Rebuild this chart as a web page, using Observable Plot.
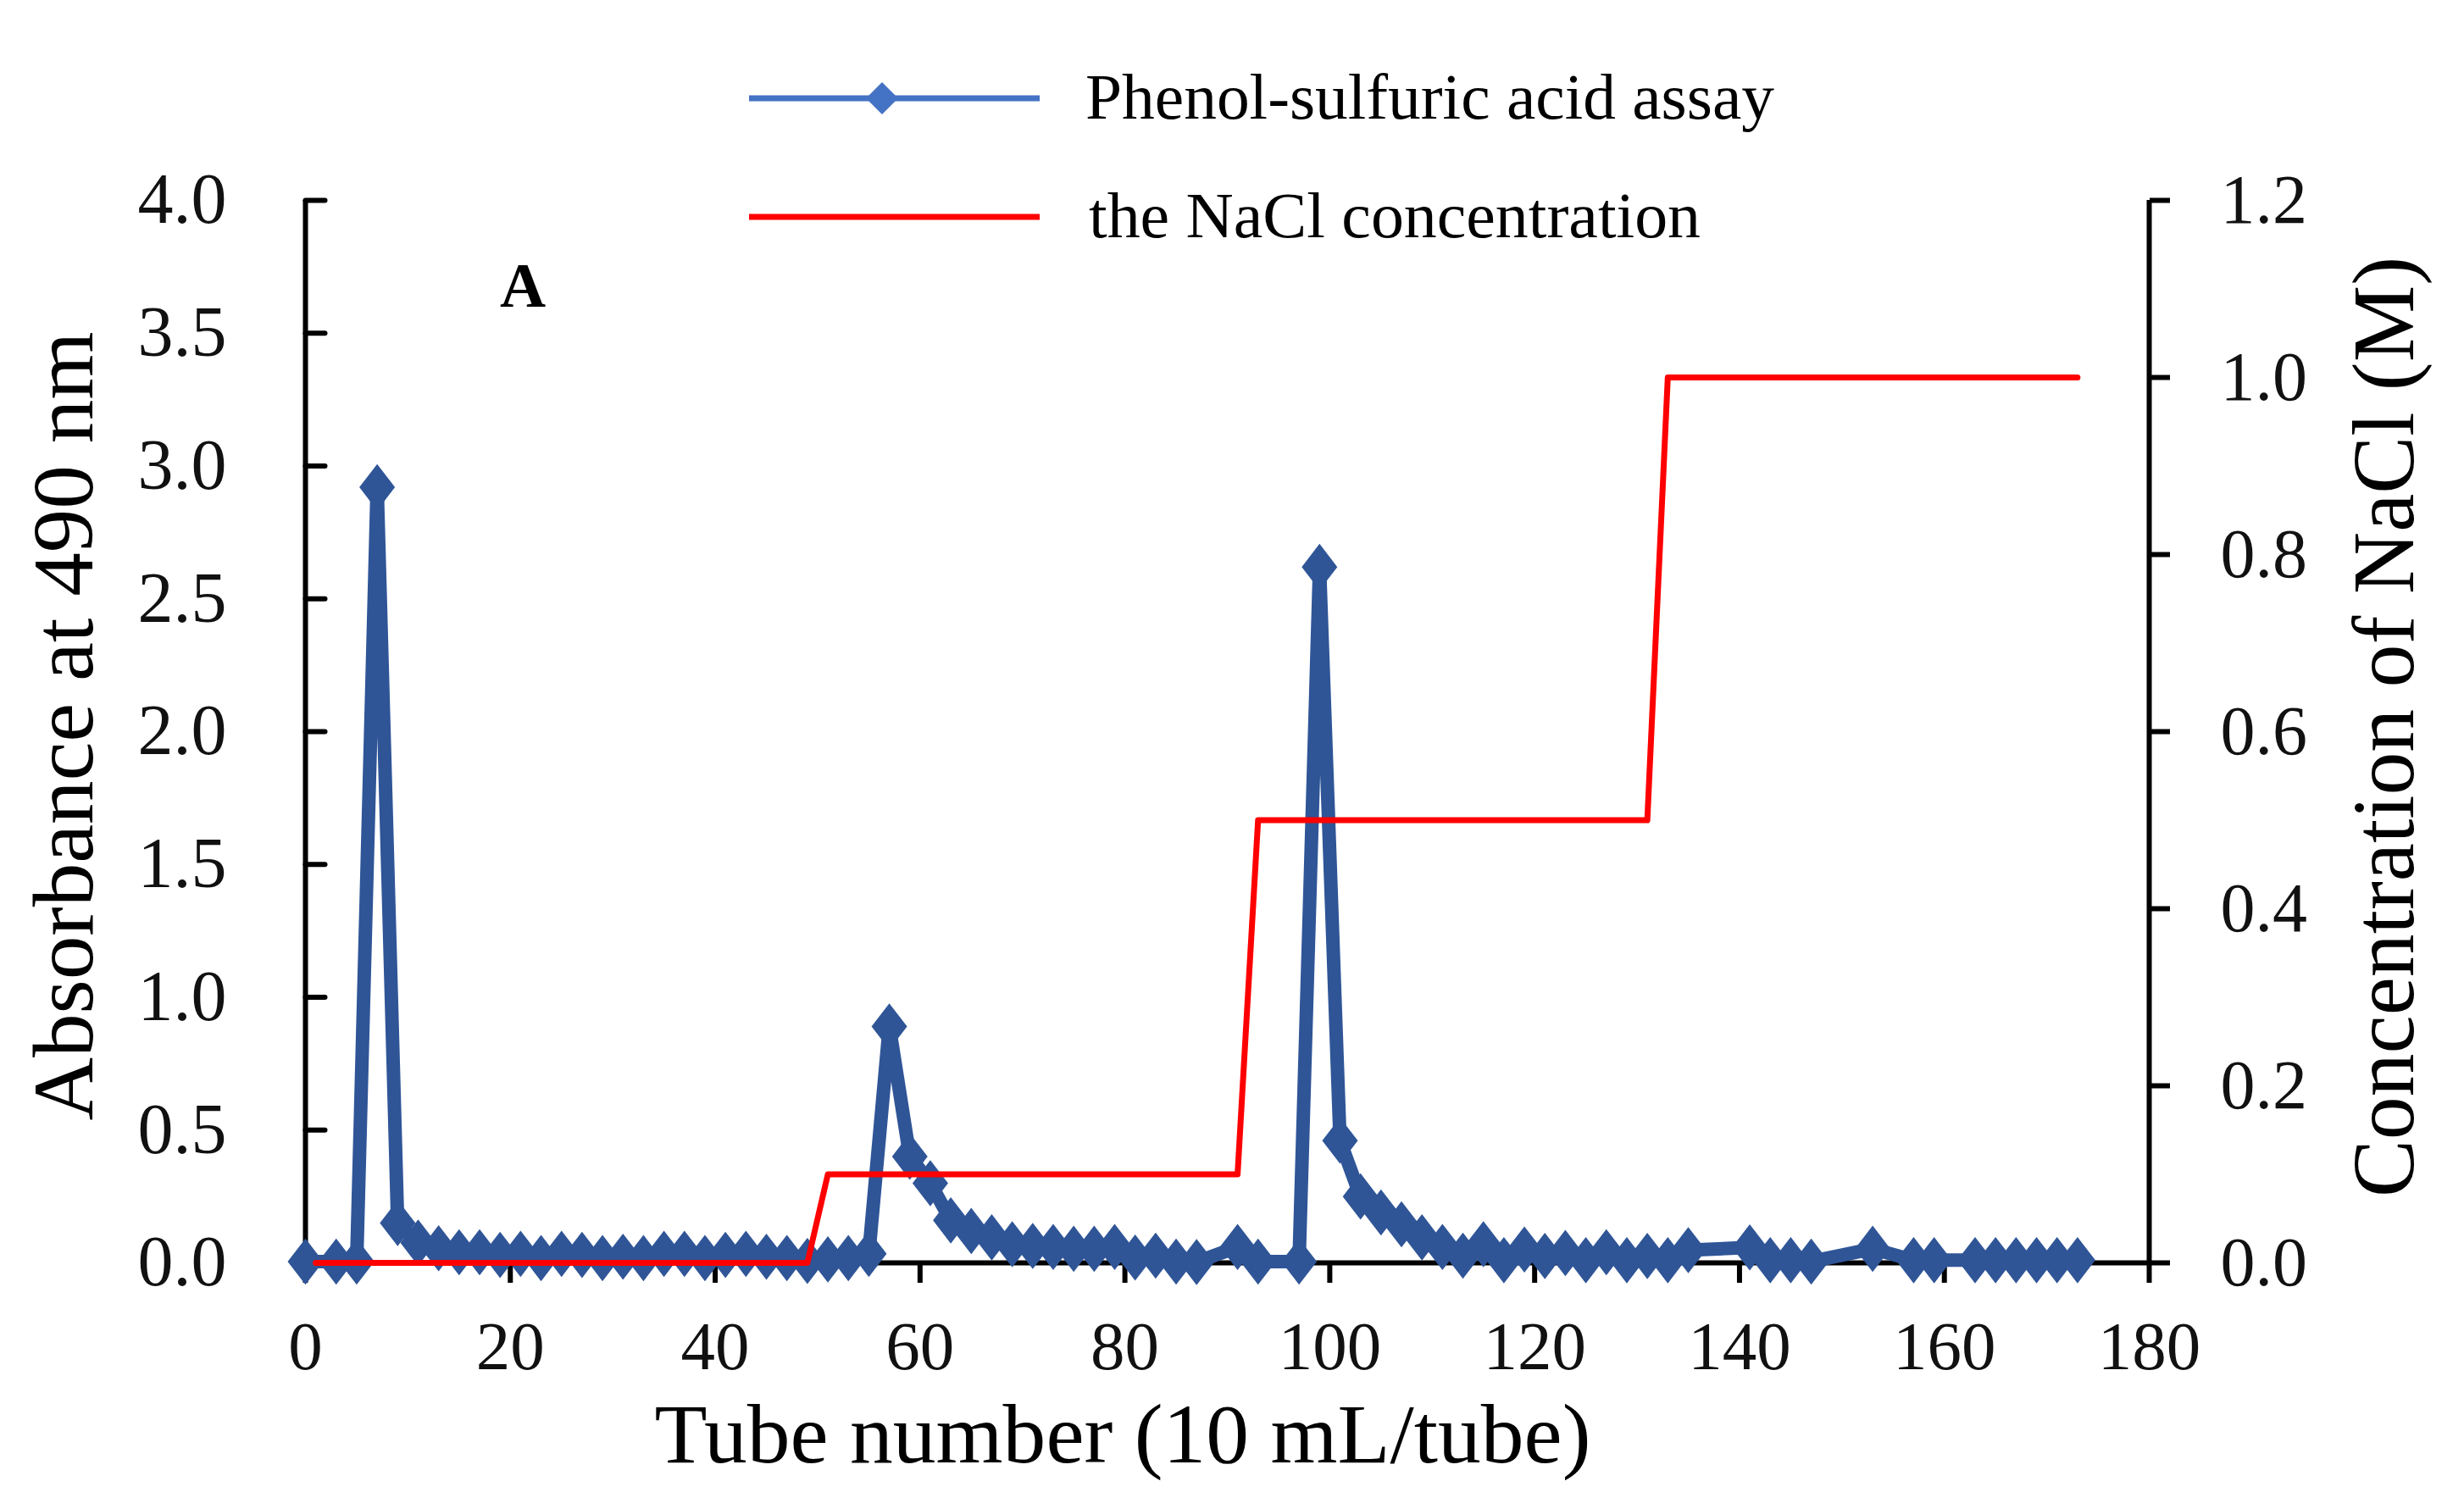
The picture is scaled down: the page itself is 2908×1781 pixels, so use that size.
<!DOCTYPE html>
<html>
<head>
<meta charset="utf-8">
<script src="https://cdn.jsdelivr.net/npm/d3@7"></script>
<script src="https://cdn.jsdelivr.net/npm/@observablehq/plot@0.6"></script>
<style>
  html, body { margin: 0; padding: 0; background: #fff; }
  #chart { width: 2908px; height: 1781px; }
</style>
</head>
<body>
<div id="chart"></div>
<script>
// ---- data ----
const tubes = [0,3,5,7,9,11,13,15,17,19,21,23,25,27,29,31,33,35,37,39,41,43,45,47,49,51,53,55,
  57,59,61,63,65,67,69,71,73,75,77,79,81,83,85,87,91,93,97,
  99,101,103,105,107,109,111,113,115,117,119,121,123,125,127,129,131,133,135,
  141,143,145,147,153,157,159,163,165,167,169,171,173];
const absorbance = [0.005,0.005,0.005,2.92,0.15,0.076,0.055,0.04,0.04,0.03,0.034,0.018,0.034,0.03,0.018,0.023,0.018,0.034,0.034,0.018,0.03,0.034,0.023,0.018,0.007,0.013,0.018,0.034,
  0.89,0.40,0.30,0.16,0.12,0.096,0.07,0.064,0.06,0.053,0.053,0.06,0.02,0.027,0.005,0.003,0.06,0.005,0.005,
  2.62,0.46,0.25,0.19,0.145,0.096,0.06,0.027,0.07,0.01,0.05,0.026,0.037,0.01,0.04,0.01,0.026,0.01,0.048,
  0.058,0.01,0.01,0.005,0.053,0.01,0.01,0.01,0.01,0.01,0.01,0.01,0.01];
const naclTubes = [1,49,51,91,93,131,133,173];
const naclConc  = [0,0,0.1,0.1,0.5,0.5,1.0,1.0];
const xTicks = [0,20,40,60,80,100,120,140,160,180];
const yTicks = [0,0.5,1.0,1.5,2.0,2.5,3.0,3.5,4.0];
const naclTicks = [0,0.2,0.4,0.6,0.8,1.0,1.2];
const seriesNames = ["Phenol-sulfuric acid assay", "the NaCl concentration"];
const xTitle = "Tube number (10 mL/tube)";
const yTitle = "Absorbance at 490 nm";
const y2Title = "Concentration of NaCl (M)";
const panelLabel = "A";

const yMax = 4, y2Max = 1.2;
const k = yMax / y2Max;

const absData = tubes.map((t, i) => ({tube: t, abs: absorbance[i]}));
const naclData = naclTubes.map((t, i) => ({tube: t, c: naclConc[i]}));

const blue = "#2F5597";
const serif = "Liberation Serif, Times New Roman, serif";

const tallDiamond = {
  draw(ctx, size) {
    const r = Math.sqrt(size / Math.PI);
    const h = r * 1.3;
    ctx.moveTo(0, -h); ctx.lineTo(r, 0); ctx.lineTo(0, h); ctx.lineTo(-r, 0); ctx.closePath();
  }
};
const tickShape = { draw(ctx, l) { ctx.moveTo(0, 0); ctx.lineTo(0, -l); } };

const W = 2908, H = 1781;
const plot = Plot.plot({
  width: W, height: H,
  marginLeft: 360, marginRight: 372, marginTop: 236, marginBottom: 291,
  style: {background: "white", fontFamily: serif, overflow: "visible"},
  x: {domain: [0, 180]},
  y: {domain: [0, yMax]},
  marks: [
    Plot.axisX(xTicks, {tickSize: 24, tickPadding: 44, strokeWidth: 6, fontSize: 81, fontFamily: serif, fill: "#111", label: null, tickFormat: d => String(d)}),
    Plot.axisY(yTicks, {anchor: "left", tickSize: 0, tickPadding: 93, fontSize: 84, fontFamily: serif, fill: "#111", label: null, tickFormat: d3.format(".1f")}),
    Plot.vector(yTicks, {x: () => 0, y: d => d, rotate: 90, length: 23, anchor: "start", shape: tickShape, stroke: "black", strokeWidth: 6}),
    Plot.axisY(naclTicks.map(v => v * k), {anchor: "right", tickSize: 24, tickPadding: 60, strokeWidth: 6, fontSize: 82, fontFamily: serif, fill: "#111", label: null, tickFormat: d => (d / k).toFixed(1)}),
    Plot.ruleX([0, 180], {stroke: "black", strokeWidth: 6}),
    Plot.ruleY([0], {stroke: "black", strokeWidth: 6}),
    Plot.line(absData, {x: "tube", y: "abs", stroke: blue, strokeWidth: 16}),
    Plot.dot(absData, {x: "tube", y: "abs", symbol: tallDiamond, r: 21, fill: blue, stroke: "none"}),
    Plot.line(naclData, {x: "tube", y: d => d.c * k, stroke: "#FF0000", strokeWidth: 7})
  ]
});
document.getElementById("chart").appendChild(plot);

// ---- titles, legend, panel label ----
const svg = d3.select(plot);
const g = svg.append("g").attr("font-family", serif).attr("fill", "black");

g.append("text").attr("x", 1325).attr("y", 1726).attr("text-anchor", "middle")
  .attr("font-size", 100).attr("textLength", 1105).attr("lengthAdjust", "spacingAndGlyphs").text(xTitle);
g.append("text").attr("transform", "translate(109,857) rotate(-90)").attr("text-anchor", "middle")
  .attr("font-size", 102).attr("textLength", 931).attr("lengthAdjust", "spacingAndGlyphs").text(yTitle);
g.append("text").attr("transform", "translate(2848,858) rotate(-90)").attr("text-anchor", "middle")
  .attr("font-size", 104).attr("textLength", 1110).attr("lengthAdjust", "spacingAndGlyphs").text(y2Title);
g.append("text").attr("x", 617).attr("y", 362).attr("text-anchor", "middle")
  .attr("font-size", 75).attr("font-weight", "bold").text(panelLabel);

// legend
const legBlue = "#4472C4";
g.append("line").attr("x1", 884).attr("x2", 1227).attr("y1", 116).attr("y2", 116)
  .attr("stroke", legBlue).attr("stroke-width", 7);
g.append("path").attr("d", "M1041,97 L1060,116 L1041,135 L1022,116 Z").attr("fill", legBlue);
g.append("line").attr("x1", 884).attr("x2", 1227).attr("y1", 256).attr("y2", 256)
  .attr("stroke", "#FF0000").attr("stroke-width", 7);
g.append("text").attr("x", 1281).attr("y", 140).attr("font-size", 76).attr("text-anchor", "start")
  .attr("textLength", 813).attr("lengthAdjust", "spacingAndGlyphs").text(seriesNames[0]);
g.append("text").attr("x", 1285).attr("y", 280).attr("font-size", 76).attr("text-anchor", "start")
  .attr("textLength", 722).attr("lengthAdjust", "spacingAndGlyphs").text(seriesNames[1]);
</script>
</body>
</html>
